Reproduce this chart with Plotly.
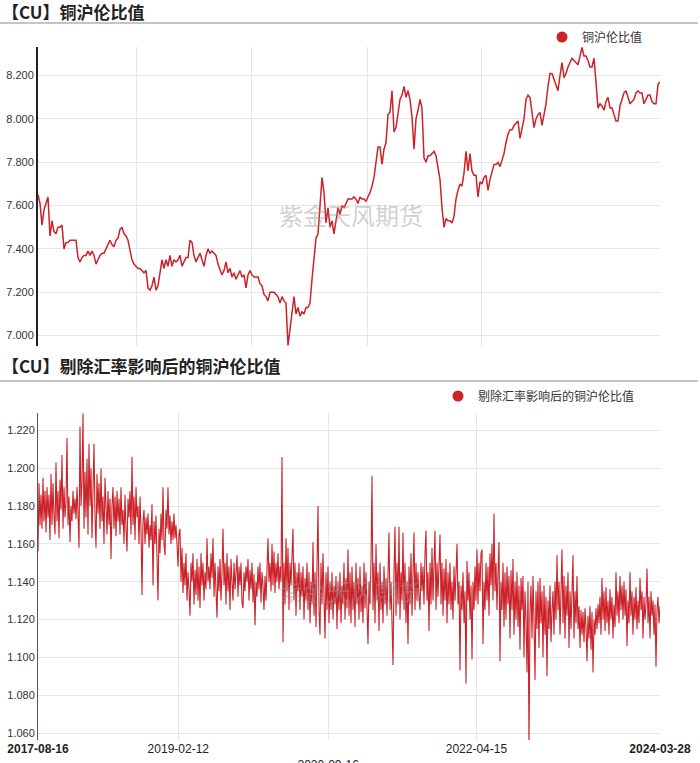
import pandas as pd
import plotly.graph_objects as go

START_DATE = "2017-08-16"
END_DATE = "2024-03-28"

# 铜沪伦比值
TOP_RATIO = [
    7.65, 7.61, 7.51, 7.58, 7.61, 7.64, 7.46, 7.53, 7.48, 7.47,
    7.50, 7.50, 7.51, 7.40, 7.43, 7.43, 7.44, 7.44, 7.44, 7.44,
    7.36, 7.34, 7.36, 7.37, 7.37, 7.39, 7.37, 7.39, 7.37, 7.33,
    7.35, 7.37, 7.38, 7.38, 7.40, 7.42, 7.44, 7.42, 7.41, 7.44,
    7.45, 7.49, 7.50, 7.47, 7.46, 7.44, 7.40, 7.35, 7.33, 7.32,
    7.31, 7.31, 7.30, 7.29, 7.30, 7.22, 7.21, 7.23, 7.27, 7.21,
    7.23, 7.29, 7.35, 7.31, 7.35, 7.32, 7.37, 7.32, 7.35, 7.34,
    7.35, 7.37, 7.32, 7.34, 7.36, 7.36, 7.44, 7.43, 7.37, 7.34,
    7.36, 7.38, 7.35, 7.32, 7.37, 7.40, 7.38, 7.39, 7.38, 7.37,
    7.33, 7.30, 7.28, 7.30, 7.34, 7.29, 7.31, 7.27, 7.29, 7.26,
    7.28, 7.30, 7.27, 7.28, 7.22, 7.28, 7.30, 7.28, 7.27, 7.27,
    7.27, 7.24, 7.23, 7.19, 7.18, 7.16, 7.20, 7.20, 7.20, 7.19,
    7.18, 7.15, 7.18, 7.16, 7.15, 6.955, 7.03, 7.13, 7.18, 7.10,
    7.13, 7.09, 7.11, 7.10, 7.13, 7.13, 7.15, 7.26, 7.37, 7.45,
    7.47, 7.62, 7.73, 7.66, 7.52, 7.59, 7.50, 7.53, 7.47, 7.53,
    7.59, 7.56, 7.60, 7.59, 7.61, 7.63,
    7.63, 7.63, 7.64, 7.63, 7.61, 7.64, 7.63, 7.63, 7.62, 7.64,
    7.66, 7.69, 7.73, 7.80, 7.87, 7.87, 7.79, 7.86, 7.89, 8.02,
    8.03, 8.13, 7.94, 7.96, 8.03, 8.09, 8.11, 8.15, 8.10, 8.13,
    8.09, 8.01, 7.86, 8.00, 8.04, 8.09, 8.05, 7.82, 7.80, 7.83,
    7.83, 7.84, 7.85, 7.83, 7.77, 7.72, 7.59, 7.50, 7.54, 7.53,
    7.53, 7.52, 7.55, 7.63, 7.67, 7.70, 7.69, 7.75, 7.85, 7.76,
    7.84, 7.76, 7.74, 7.74, 7.64, 7.71, 7.70, 7.73, 7.74, 7.67,
    7.72, 7.75, 7.79, 7.79, 7.80, 7.78, 7.81, 7.84, 7.89, 7.93,
    7.95, 7.95, 7.97, 7.98, 7.99, 7.91, 7.96, 8.00, 8.09, 8.11,
    8.10, 8.02, 7.96, 8.00, 8.02, 8.03, 7.97, 8.02, 8.07, 8.15,
    8.21, 8.21, 8.18, 8.16, 8.13, 8.20, 8.26, 8.19, 8.21, 8.24,
    8.26, 8.28, 8.27, 8.26, 8.25, 8.29, 8.33, 8.29, 8.29, 8.27,
    8.24, 8.24, 8.28, 8.17, 8.05, 8.07, 8.06, 8.04, 8.08, 8.10,
    8.05, 8.05, 8.02, 7.99, 7.99, 8.06, 8.09, 8.12, 8.13, 8.10,
    8.07, 8.08, 8.09, 8.12, 8.13, 8.12, 8.12, 8.07, 8.09, 8.11,
    8.11, 8.08, 8.07, 8.07, 8.16, 8.17,
]

# 剔除汇率影响后的铜沪伦比值
ADJ_RATIO = [
    1.156, 1.192, 1.170, 1.186, 1.168, 1.195, 1.172, 1.188, 1.166, 1.190,
    1.174, 1.186, 1.162, 1.197, 1.170, 1.192, 1.175, 1.165, 1.203, 1.172,
    1.188, 1.163, 1.194, 1.178, 1.207, 1.168, 1.190, 1.174, 1.182, 1.216,
    1.170, 1.185, 1.161, 1.180, 1.172, 1.188, 1.176, 1.184, 1.173, 1.190,
    1.176, 1.158, 1.222, 1.180, 1.193, 1.229, 1.168, 1.198, 1.174, 1.205,
    1.165, 1.213, 1.180, 1.200, 1.163, 1.190, 1.213, 1.175, 1.158, 1.197,
    1.176, 1.192, 1.168, 1.200, 1.172, 1.185, 1.160, 1.195, 1.178, 1.165,
    1.188, 1.170, 1.184, 1.152, 1.180, 1.190, 1.168, 1.185, 1.164, 1.188,
    1.172, 1.184, 1.165, 1.190, 1.170, 1.178, 1.160, 1.186, 1.168, 1.156,
    1.184, 1.174, 1.188, 1.165, 1.206, 1.170, 1.185, 1.162, 1.190, 1.174,
    1.180, 1.160, 1.185, 1.168, 1.133, 1.172, 1.178, 1.160, 1.174, 1.165,
    1.176, 1.158, 1.170, 1.162, 1.181, 1.138, 1.172, 1.160, 1.175, 1.150,
    1.130, 1.168, 1.155, 1.176, 1.162, 1.190, 1.160, 1.154, 1.178, 1.168,
    1.190, 1.165, 1.175, 1.160, 1.172, 1.162, 1.176, 1.163, 1.170, 1.160,
    1.148, 1.165, 1.168, 1.140, 1.158, 1.134, 1.150, 1.138, 1.155, 1.130,
    1.145, 1.136, 1.122, 1.150, 1.140, 1.155, 1.128, 1.146, 1.133, 1.152,
    1.130, 1.148, 1.126, 1.155, 1.138, 1.150, 1.130, 1.145, 1.136, 1.163,
    1.140, 1.148, 1.136, 1.155, 1.142, 1.163, 1.132, 1.150, 1.138, 1.121,
    1.148, 1.135, 1.152, 1.130, 1.145, 1.168, 1.138, 1.150, 1.128, 1.155,
    1.135, 1.148, 1.125, 1.152, 1.140, 1.130, 1.150, 1.136, 1.145, 1.154,
    1.132, 1.148, 1.138, 1.150, 1.129, 1.126, 1.145, 1.135, 1.148, 1.140,
    1.152, 1.130, 1.146, 1.136, 1.150, 1.129, 1.144, 1.117, 1.140, 1.132,
    1.148, 1.136, 1.150, 1.129, 1.145, 1.138, 1.125, 1.143, 1.130, 1.147,
    1.163, 1.140, 1.150, 1.135, 1.160, 1.138, 1.156, 1.134, 1.150, 1.140,
    1.155, 1.136, 1.148, 1.140, 1.206, 1.108, 1.150, 1.128, 1.163, 1.135,
    1.158, 1.125, 1.150, 1.138, 1.160, 1.168, 1.130, 1.150, 1.122, 1.145,
    1.135, 1.150, 1.125, 1.145, 1.132, 1.148, 1.120, 1.142, 1.130, 1.150,
    1.125, 1.145, 1.118, 1.140, 1.128, 1.161, 1.122, 1.145, 1.116, 1.140,
    1.180, 1.125, 1.112, 1.150, 1.128, 1.155, 1.120, 1.110, 1.145, 1.125,
    1.148, 1.118, 1.140, 1.125, 1.145, 1.120, 1.138, 1.128, 1.143, 1.115,
    1.140, 1.125, 1.145, 1.118, 1.138, 1.128, 1.150, 1.120, 1.142, 1.126,
    1.157, 1.122, 1.145, 1.118, 1.148, 1.125, 1.140, 1.116, 1.150, 1.128,
    1.142, 1.120, 1.148, 1.124, 1.138, 1.118, 1.150, 1.126, 1.145, 1.120,
    1.107, 1.140, 1.128, 1.150, 1.196, 1.125, 1.150, 1.118, 1.160, 1.130,
    1.145, 1.114, 1.150, 1.125, 1.140, 1.118, 1.148, 1.128, 1.142, 1.122,
    1.150, 1.166, 1.125, 1.140, 1.118, 1.096, 1.145, 1.169, 1.122, 1.150,
    1.128, 1.169, 1.120, 1.145, 1.130, 1.166, 1.125, 1.150, 1.118, 1.140,
    1.107, 1.148, 1.128, 1.155, 1.122, 1.140, 1.166, 1.125, 1.150, 1.130,
    1.145, 1.132, 1.125, 1.150, 1.135, 1.148, 1.128, 1.155, 1.167, 1.130,
    1.145, 1.114, 1.150, 1.128, 1.158, 1.130, 1.145, 1.167, 1.125, 1.150,
    1.132, 1.148, 1.165, 1.128, 1.150, 1.122, 1.147, 1.130, 1.152, 1.118,
    1.145, 1.128, 1.150, 1.125, 1.140, 1.120, 1.148, 1.130, 1.142, 1.160,
    1.128, 1.140, 1.093, 1.138, 1.125, 1.145, 1.118, 1.135, 1.086, 1.151,
    1.130, 1.145, 1.120, 1.138, 1.099, 1.140, 1.125, 1.148, 1.130, 1.157,
    1.128, 1.150, 1.135, 1.155, 1.157, 1.107, 1.140, 1.125, 1.150, 1.130,
    1.148, 1.122, 1.155, 1.138, 1.160, 1.130, 1.176, 1.135, 1.150, 1.125,
    1.145, 1.161, 1.098, 1.140, 1.125, 1.150, 1.116, 1.145, 1.120, 1.148,
    1.128, 1.143, 1.110, 1.146, 1.125, 1.152, 1.112, 1.140, 1.120, 1.145,
    1.116, 1.138, 1.104, 1.142, 1.125, 1.143, 1.100, 1.135, 1.120, 1.092,
    1.140, 1.051, 1.125, 1.138, 1.110, 1.143, 1.120, 1.088, 1.135, 1.115,
    1.140, 1.105, 1.142, 1.118, 1.135, 1.100, 1.138, 1.112, 1.132, 1.090,
    1.130, 1.115, 1.138, 1.108, 1.125, 1.135, 1.112, 1.140, 1.120, 1.154,
    1.125, 1.140, 1.112, 1.145, 1.157, 1.118, 1.143, 1.110, 1.138, 1.122,
    1.145, 1.105, 1.135, 1.115, 1.140, 1.154, 1.110, 1.135, 1.118, 1.143,
    1.115, 1.127, 1.105, 1.125, 1.112, 1.124, 1.108, 1.126, 1.116, 1.098,
    1.122, 1.110, 1.127, 1.104, 1.124, 1.092, 1.120, 1.112, 1.126, 1.115,
    1.128, 1.118, 1.132, 1.112, 1.142, 1.120, 1.135, 1.114, 1.137, 1.118,
    1.130, 1.112, 1.136, 1.120, 1.132, 1.110, 1.128, 1.116, 1.145, 1.122,
    1.135, 1.118, 1.143, 1.125, 1.138, 1.120, 1.140, 1.122, 1.136, 1.106,
    1.130, 1.118, 1.145, 1.122, 1.135, 1.112, 1.132, 1.120, 1.137, 1.115,
    1.130, 1.118, 1.142, 1.125, 1.135, 1.110, 1.132, 1.120, 1.128, 1.147,
    1.118, 1.132, 1.110, 1.135, 1.122, 1.130, 1.112, 1.128, 1.095, 1.125,
    1.132, 1.118, 1.127,
]

TOP_GRID_DATES = ["2018-09-04", "2019-11-25", "2021-02-14", "2022-05-03"]
BOTTOM_TICK_DATES = ["2017-08-16", "2019-02-12", "2020-09-16", "2022-04-15", "2024-03-28"]
BOTTOM_TICK_TEXT = ["<b>2017-08-16</b>", "2019-02-12", "<br>2020-09-16", "2022-04-15", "<b>2024-03-28</b>"]
TOP_Y_TICKS = [7.0, 7.2, 7.4, 7.6, 7.8, 8.0, 8.2]
BOTTOM_Y_TICKS = [1.06, 1.08, 1.10, 1.12, 1.14, 1.16, 1.18, 1.20, 1.22]

TITLE_TOP = "【CU】铜沪伦比值"
TITLE_BOTTOM = "【CU】剔除汇率影响后的铜沪伦比值"
NAME_TOP = "铜沪伦比值"
NAME_BOTTOM = "剔除汇率影响后的铜沪伦比值"
WATERMARK = "紫金天风期货"

RED = "#cc2229"
W, H = 700, 763
CJK = "Noto Sans CJK SC"
LAT = "Liberation Sans, Arial, sans-serif"

top_dates = pd.date_range(START_DATE, END_DATE, periods=len(TOP_RATIO))
bot_dates = pd.date_range(START_DATE, END_DATE, periods=len(ADJ_RATIO))


def px(x):
    return x / W


def py(y):
    return 1 - y / H


fig = go.Figure()
fig.add_trace(go.Scatter(x=top_dates, y=TOP_RATIO, mode="lines", line=dict(color=RED, width=1.5),
                         xaxis="x", yaxis="y", showlegend=False, name=NAME_TOP))
fig.add_trace(go.Scatter(x=[None], y=[None], mode="markers", marker=dict(symbol="circle", size=11, color=RED),
                         xaxis="x", yaxis="y", name=NAME_TOP, legend="legend"))
fig.add_trace(go.Scatter(x=bot_dates, y=ADJ_RATIO, mode="lines", line=dict(color=RED, width=1.1),
                         xaxis="x2", yaxis="y2", showlegend=False, name=NAME_BOTTOM))
fig.add_trace(go.Scatter(x=[None], y=[None], mode="markers", marker=dict(symbol="circle", size=11, color=RED),
                         xaxis="x2", yaxis="y2", name=NAME_BOTTOM, legend="legend2"))

xr = [START_DATE, END_DATE]
grid = "#e6e6e6"
tickfont = dict(family=LAT, size=11, color="#333")

fig.update_layout(
    width=W, height=H, autosize=False,
    margin=dict(l=0, r=0, t=0, b=0, autoexpand=False),
    paper_bgcolor="white", plot_bgcolor="white",
    xaxis=dict(domain=[px(38), px(660)], range=xr, type="date", anchor="y", automargin=False,
               tickvals=TOP_GRID_DATES, showticklabels=False, showgrid=True, gridcolor=grid,
               gridwidth=1, zeroline=False, showline=False, ticks=""),
    yaxis=dict(domain=[py(346), py(47)], range=[6.952, 8.332], anchor="x", automargin=False,
               tickvals=TOP_Y_TICKS, tickformat=".3f", tickfont=tickfont,
               showgrid=True, gridcolor=grid, gridwidth=1, zeroline=False,
               showline=True, linecolor="#222", linewidth=2, ticks=""),
    xaxis2=dict(domain=[px(38), px(660)], range=xr, type="date", anchor="y2", automargin=False,
                tickvals=BOTTOM_TICK_DATES, ticktext=BOTTOM_TICK_TEXT,
                tickfont=dict(family=LAT, size=12, color="#222"),
                showgrid=True, gridcolor=grid, gridwidth=1, zeroline=False, showline=False, ticks=""),
    yaxis2=dict(domain=[py(740), py(413)], range=[1.0563, 1.2292], anchor="x2", automargin=False,
                tickvals=BOTTOM_Y_TICKS, tickformat=".3f", tickfont=tickfont,
                showgrid=True, gridcolor=grid, gridwidth=1, zeroline=False,
                showline=True, linecolor="#555", linewidth=1, ticks=""),
    legend=dict(x=px(542), y=py(37), xanchor="left", yanchor="middle", bgcolor="rgba(0,0,0,0)",
                font=dict(family=CJK, size=12, color="#333"), itemwidth=30),
    legend2=dict(x=px(438), y=py(396), xanchor="left", yanchor="middle", bgcolor="rgba(0,0,0,0)",
                 font=dict(family=CJK, size=12, color="#333"), itemwidth=30),
    shapes=[
        dict(type="line", xref="paper", yref="paper", x0=0, x1=px(698), y0=py(23), y1=py(23),
             line=dict(color="#b0b0b0", width=1.5)),
        dict(type="line", xref="paper", yref="paper", x0=0, x1=px(698), y0=py(381), y1=py(381),
             line=dict(color="#b0b0b0", width=1.5)),
    ],
    annotations=[
        dict(text="<b>" + TITLE_TOP + "</b>", x=0, y=py(12), xref="paper", yref="paper",
             xanchor="left", yanchor="middle", showarrow=False,
             font=dict(family=CJK, size=17, color="#222")),
        dict(text="<b>" + TITLE_BOTTOM + "</b>", x=0, y=py(365), xref="paper", yref="paper",
             xanchor="left", yanchor="middle", showarrow=False,
             font=dict(family=CJK, size=17, color="#222")),
        dict(text=WATERMARK, x=px(351), y=py(195), xref="paper", yref="paper", showarrow=False,
             font=dict(family=CJK, size=24, color="rgba(150,150,150,0.45)")),
        dict(text=WATERMARK, x=px(351), y=py(610), xref="paper", yref="paper", showarrow=False,
             font=dict(family=CJK, size=24, color="rgba(150,150,150,0.45)")),
    ],
)

fig.write_html(
    "out.html",
    config={"displayModeBar": False},
    post_script="document.body.style.margin='0';document.body.style.overflow='hidden';",
)
